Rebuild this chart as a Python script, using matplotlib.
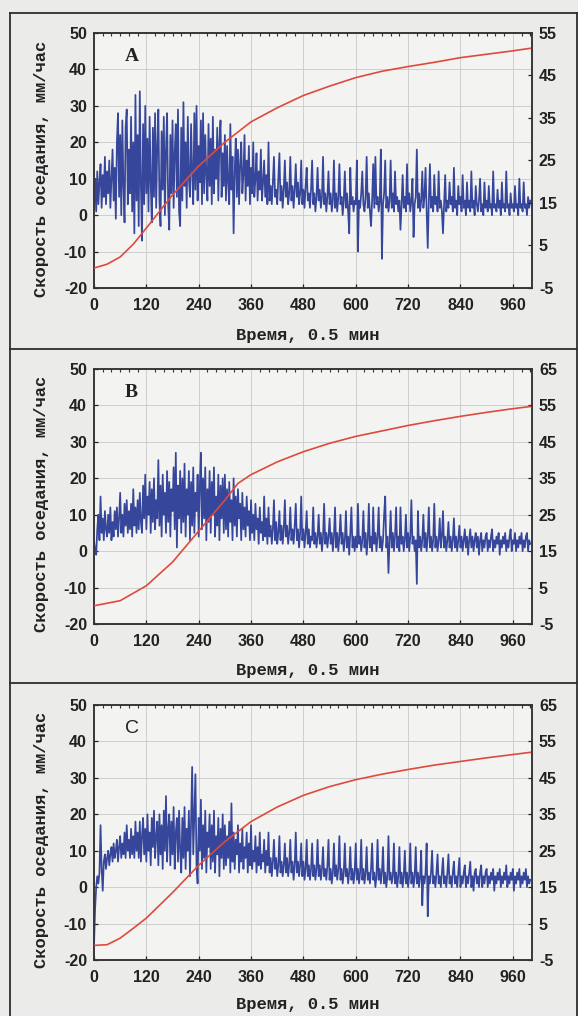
import numpy as np
import matplotlib
matplotlib.use('Agg')
import matplotlib.pyplot as plt
from matplotlib.ticker import MultipleLocator
from matplotlib.lines import Line2D

plt.rcParams['axes.unicode_minus'] = False

# ---------------- data ----------------
time = np.arange(0, 1000.1, 2.5)   # sampling grid, 0.5 min units

blue_a = [
    5, 10, 1, 12, 3, 9, 14, 2, 11, 5, 16, 3, 12, 6, 15, 2, 10, 18, 4, 13, -1, 20, 28, 5, 22, 0, 26, 8, -2, 24, 29, 3, 18, 6, 27, 1, 20, -5, 33, 4,
    22, -3, 34, 8, -7, 25, 3, 30, 6, 21, 1, 27, 9, -2, 24, 5, 28, 2, 19, 29, 4, -3, 23, 7, 27, 0, 18, 28, 3, -4, 22, 6, 26, 2, 17, 25, 5, 29, 1, -3,
    24, 4, 31, 8, 20, 2, 27, 10, 5, 25, 12, 3, 28, 7, 30, 4, 19, 9, 26, 3, 28, 6, 22, 11, 4, 25, 8, 21, 3, 27, 6, 18, 10, 24, 4, 20, 26, 5, 17, 8,
    22, 4, 19, 9, 3, 25, 7, 16, -5, 12, 21, 5, 18, 3, 14, 20, 6, 11, 22, 4, 15, 8, 19, 3, 13, 6, 20, 5, 10, 17, 4, 12, 7, 18, 4, 9, 15, 5, 11, 3,
    20, 4, 8, 3, 9, 16, 5, 7, 3, 10, 17, 4, 8, 2, 7, 15, 5, 9, 3, 6, 16, 4, 8, 2, 7, 14, 5, 9, 3, 6, 15, 3, 7, 2, 8, 13, 4, 6, 2, 7,
    15, 3, 6, 1, 5, 13, 4, 7, 2, 5, 16, 3, 6, 1, 5, 12, 3, 6, 1, 4, 15, 2, 6, 1, 5, 14, 3, 5, 0, 4, 12, 2, 6, 1, -5, 13, 3, 5, 1, 4,
    3, 15, -10, 4, 2, 6, 12, 3, 1, 5, 16, 2, 6, 1, -3, 4, 14, 2, 16, 3, 5, 1, 4, 18, -12, 3, 6, 15, 2, 5, 1, 4, 15, 2, 6, 1, 12, 3, 5, 1,
    4, -4, 3, 11, 2, 5, 1, 14, 3, 6, 1, 4, 10, -6, 3, 5, 18, 2, 6, 1, 4, 12, 2, 5, 13, 1, -9, 4, 14, 2, 5, 1, 11, 3, 5, 1, 12, 2, 4, 1,
    -5, 3, 11, 1, 4, 2, 9, 3, 5, 1, 13, 2, 4, 0, 8, 3, 5, 1, 11, 2, 4, 0, 9, 2, 4, 1, 12, 2, 4, 0, 8, 3, 1, 4, 10, 1, 3, 0, 9, 2,
    4, 1, 8, 2, 3, 0, 12, 2, 3, 1, 7, 2, 4, 0, 9, 2, 3, 1, 12, 2, 3, 0, 6, 2, 3, 1, 8, 2, 3, 0, 10, 2, 3, 1, 9, 2, 3, 0, 5, 2,
    4]

blue_b = [
    3, 0, -1, 6, 10, 3, 15, 5, 9, 3, 11, 6, 4, 10, 5, 12, 3, 8, 4, 11, 6, 12, 4, 9, 16, 5, 10, 4, 13, 7, 14, 5, 11, 6, 13, 4, 17, 7, 12, 5,
    14, 6, 16, 8, 5, 18, 9, 21, 6, 15, 10, 19, 5, 17, 8, 20, 6, 14, 9, 25, 7, 18, 4, 21, 10, 16, 5, 22, 8, 19, 4, 17, 11, 23, 6, 27, 1, 18, 9, 22,
    5, 20, 8, 24, 4, 17, 10, 22, 3, 19, 7, 23, 5, 16, 11, 21, 4, 18, 27, 6, 20, 9, 23, 3, 17, 8, 22, 5, 19, 10, 23, 4, 15, 7, 21, 3, 18, 9, 20, 5,
    21, 6, 17, 4, 19, 8, 14, 3, 20, 7, 15, 4, 17, 9, 13, 3, 16, 6, 12, 4, 15, 7, 11, 3, 14, 5, 10, 3, 13, 6, 9, 2, 12, 5, 8, 3, 15, 4, 9, 2,
    12, 4, 7, 2, 6, 14, 3, 8, 2, 5, 11, 3, 7, 2, 6, 14, 4, 7, 2, 5, 12, 3, 6, 2, 7, 13, 3, 6, 1, 5, 15, 3, 6, 1, 5, 11, 2, 6, 1, 4,
    3, 12, 2, 5, 1, 4, 10, 2, 5, 0, 4, 13, 2, 5, 1, 4, 9, 2, 5, 0, 4, 12, 1, 5, 0, 4, 10, 2, 5, 0, 3, 11, 1, 4, -1, 5, 12, 1, 4, 0,
    4, 1, 13, 2, 4, 0, 3, 11, 1, 5, -1, 3, 13, 1, 4, 0, 12, 2, 5, 0, 4, 12, 1, 4, 0, 3, 10, 15, 1, 4, -6, 3, 11, 1, 5, 0, 4, 12, 1, 4,
    0, 12, 2, 4, 0, 3, 10, 1, 5, 0, 4, 14, 2, 4, 0, 3, -9, 11, 1, 4, 0, 3, 10, 1, 5, 0, 4, 12, 1, 4, 0, 3, 13, 1, 4, 0, 3, 9, 1, 4,
    11, 1, 4, 0, 3, 8, 1, 4, 0, 3, 9, 1, 4, 0, 3, 7, 1, 4, 0, 3, 6, 1, 4, -1, 3, 6, 1, 4, 0, 3, 5, 1, 4, -1, 3, 5, 0, 3, 1, 4,
    5, 0, 3, 1, 4, 6, 0, 3, 1, 4, 2, 5, -1, 3, 1, 4, 2, 5, 0, 3, 1, 4, 6, 0, 3, 2, 5, 0, 3, 1, 4, 2, 5, 0, 3, 1, 4, 5, 0, 3,
    2]

blue_c = [
    -16, -6, 0, 3, 1, 4, 17, 5, -1, 7, 9, 5, 8, 10, 6, 9, 11, 7, 12, 8, 10, 13, 7, 11, 14, 8, 12, 9, 15, 8, 17, 10, 13, 8, 16, 9, 14, 8, 18, 10,
    15, 8, 18, 7, 14, 19, 9, 16, 7, 20, 10, 15, 6, 19, 11, 21, 8, 14, 18, 6, 20, 9, 17, 5, 21, 10, 25, 7, 16, 20, 6, 18, 9, 22, 5, 15, 19, 7, 21, 10,
    4, 19, 8, 22, 5, 16, 10, 21, 3, 18, 33, 9, 20, 31, 6, 1, 19, 10, 24, 5, 17, 8, 21, 4, 15, 11, 20, 5, 17, 7, 21, 4, 14, 9, 19, 3, 16, 8, 20, 5,
    17, 6, 14, 8, 18, 4, 23, 7, 15, 5, 13, 9, 17, 4, 12, 7, 16, 5, 11, 8, 15, 4, 12, 6, 17, 5, 10, 7, 14, 4, 11, 6, 15, 5, 9, 7, 13, 4, 10, 6,
    15, 4, 8, 3, 7, 13, 5, 8, 3, 6, 14, 4, 7, 3, 6, 12, 4, 8, 3, 6, 13, 4, 7, 2, 6, 15, 4, 7, 3, 6, 12, 3, 7, 2, 5, 13, 3, 6, 2, 5,
    12, 3, 6, 2, 5, 13, 3, 6, 2, 5, 11, 3, 5, 2, 6, 13, 2, 5, 1, 4, 12, 3, 6, 2, 5, 14, 2, 5, 1, 4, 12, 3, 5, 1, 4, 11, 2, 5, 1, 4,
    12, 2, 5, 1, 4, 13, 2, 5, 1, 4, 11, 2, 4, 1, 5, 12, 2, 4, 0, 3, 13, 2, 5, 1, 4, 11, 1, 4, 0, 3, 14, 2, 4, 1, 3, 12, 1, 4, 0, 3,
    11, 1, 4, 0, 3, 10, 1, 4, 0, 3, 12, 1, 4, 0, 3, 11, 1, 4, 0, 3, 10, -5, 3, 1, 4, 12, -8, 3, 1, 4, 10, 1, 3, 0, 4, 9, 1, 3, 0, 4,
    8, 1, 3, 0, 4, 9, 1, 3, 0, 4, 7, 1, 3, 0, 4, 8, 0, 3, 1, 4, 6, 0, 3, 1, 4, 7, 0, 3, -1, 4, 5, 1, 3, 0, 4, 6, 0, 3, 1, 4,
    5, 0, 3, 1, 4, 2, 5, -1, 3, 1, 4, 2, 5, 0, 3, 1, 4, 2, 6, 0, 3, 1, 4, 2, 5, -1, 3, 1, 4, 2, 5, 0, 3, 1, 4, 2, 5, 0, 3, 1,
    2]

red_t_a = [0, 30, 60, 90, 120, 150, 180, 240, 300, 360, 420, 480, 540, 600,
           660, 720, 780, 840, 900, 960, 1000]
red_a = [-0.3, 0.6, 2.3, 5.3, 9.1, 13.0, 16.9, 23.7, 29.3, 34.1, 37.4, 40.3, 42.5,
         44.5, 46.0, 47.1, 48.1, 49.2, 50.0, 50.8, 51.4]

red_t_b = [0, 60, 120, 180, 240, 300, 330, 360, 420, 480, 540, 600, 660, 720,
           780, 840, 900, 960, 1000]
red_b = [0.0, 1.4, 5.5, 12.0, 20.5, 29.0, 33.6, 36.0, 39.5, 42.3, 44.6, 46.5,
         48.0, 49.5, 50.8, 52.0, 53.1, 54.1, 54.7]

red_t_c = [0, 30, 60, 90, 120, 180, 240, 300, 360, 420, 480, 540, 600, 660,
           720, 780, 840, 900, 960, 1000]
red_c = [-1.0, -0.8, 1.0, 3.7, 6.5, 13.5, 21.0, 27.5, 33.0, 37.0, 40.2, 42.6,
         44.5, 46.0, 47.3, 48.5, 49.5, 50.5, 51.4, 52.0]

panel_letters = ['A', 'B', 'C']
blue_series = [blue_a, blue_b, blue_c]
red_times = [red_t_a, red_t_b, red_t_c]
red_series = [red_a, red_b, red_c]
right_limits = [(-5, 55), (-5, 65), (-5, 65)]
x_ticks = [0, 120, 240, 360, 480, 600, 720, 840, 960]
left_ticks = [-20, -10, 0, 10, 20, 30, 40, 50]

ylabel_text = 'Скорость оседания, мм/час'
xlabel_text = 'Время, 0.5 мин'

# ---------------- layout ----------------
W, H = 578, 1016
fig = plt.figure(figsize=(W / 100, H / 100), dpi=100, facecolor='#ebebea')

def fx(px):
    return px / W

def fy(py):
    return 1 - py / H

axes_tops = [33, 369, 705]
axes_h = 255
ax_left, ax_right = 94, 532
ylabel_centers = [169, 504, 840]
xlabel_centers = [335, 670, 1005]
letter_fonts = [('Liberation Serif', 'bold'), ('Liberation Serif', 'bold'),
                ('Liberation Sans', 'normal')]

blue_col = '#36469b'
red_col = '#df4a3c'
tick_font = dict(family='Liberation Sans', weight='bold', size=11.5)
label_font = dict(family='Liberation Mono', weight='bold', size=12.3)

for i in range(3):
    top = axes_tops[i]
    ax = fig.add_axes([fx(ax_left), fy(top + axes_h), fx(ax_right - ax_left), axes_h / H])
    ax.set_facecolor('#f3f3f2')
    ax.plot(time, blue_series[i], color=blue_col, lw=1.25, zorder=3)
    ax.set_xlim(0, 1004)
    ax.set_ylim(-20, 50)
    ax.set_xticks(x_ticks)
    ax.set_yticks(left_ticks)
    ax.xaxis.set_minor_locator(MultipleLocator(20))
    ax.grid(True, which='major', color='#c9c9c9', lw=0.6, zorder=0)
    ax.tick_params(which='major', direction='in', length=3, width=0.9,
                   top=False, right=False, pad=5, colors='#222222')
    ax.tick_params(which='minor', direction='in', length=2.5, width=0.8,
                   top=True, bottom=False, colors='#333333')
    ax.tick_params(axis='x', which='major', pad=7)
    for lab in ax.get_xticklabels() + ax.get_yticklabels():
        lab.set_fontfamily(tick_font['family'])
        lab.set_fontweight(tick_font['weight'])
        lab.set_fontsize(tick_font['size'])
        lab.set_color('#222222')
    for sp in ax.spines.values():
        sp.set_color('#333333')
        sp.set_linewidth(1.1)

    ax2 = ax.twinx()
    ax2.plot(red_times[i], red_series[i], color=red_col, lw=1.2, zorder=4)
    lo, hi = right_limits[i]
    ax2.set_ylim(lo, hi)
    ax2.set_yticks(list(range(lo, hi + 1, 10)))
    ax2.tick_params(direction='in', length=3, width=0.9, pad=5, colors='#222222')
    for lab in ax2.get_yticklabels():
        lab.set_fontfamily(tick_font['family'])
        lab.set_fontweight(tick_font['weight'])
        lab.set_fontsize(tick_font['size'])
        lab.set_color('#222222')
    for sp in ax2.spines.values():
        sp.set_color('#333333')
        sp.set_linewidth(1.1)

    fam, wt = letter_fonts[i]
    ax.text(0.07, 0.94, panel_letters[i], transform=ax.transAxes, ha='left', va='top',
            fontfamily=fam, fontweight=wt, fontsize=14, color='#222222', zorder=6)

    fig.text(fx(42), fy(ylabel_centers[i]), ylabel_text, rotation=90,
             ha='center', va='center', color='#222222', **label_font)
    fig.text(fx(308), fy(xlabel_centers[i]), xlabel_text,
             ha='center', va='center', color='#222222', **label_font)

# panel frames
frame_col = '#2e2e2e'
for y in [13, 349, 683]:
    fig.add_artist(Line2D([fx(10), fx(577)], [fy(y), fy(y)], transform=fig.transFigure,
                          color=frame_col, lw=1.3))
fig.add_artist(Line2D([fx(10), fx(10)], [fy(13), fy(1016)], transform=fig.transFigure,
                      color=frame_col, lw=1.3))
fig.add_artist(Line2D([fx(576.5), fx(576.5)], [fy(13), fy(1016)], transform=fig.transFigure,
                      color=frame_col, lw=1.3))

fig.savefig('out.png', dpi=100, facecolor=fig.get_facecolor())
